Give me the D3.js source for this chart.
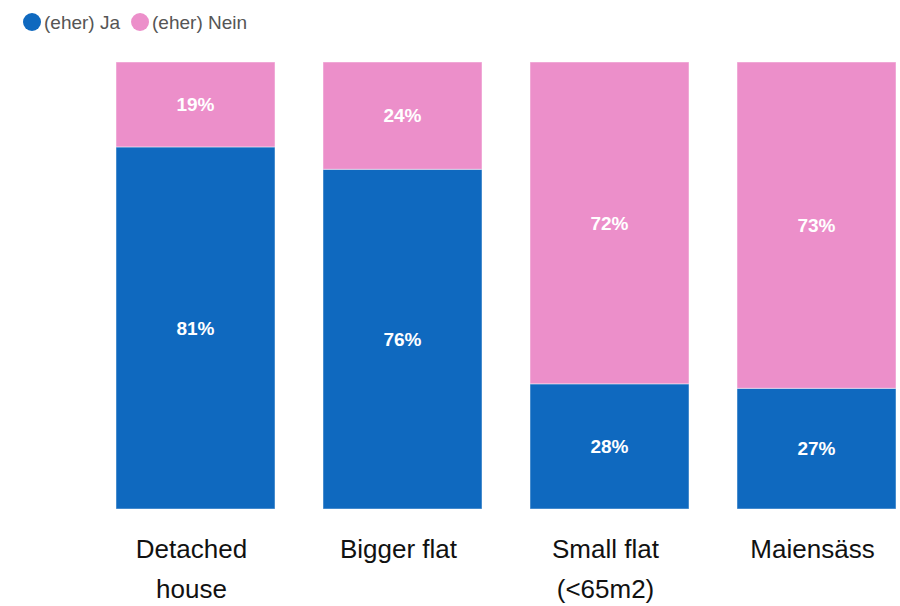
<!DOCTYPE html>
<html>
<head>
<meta charset="utf-8">
<script src="https://cdn.jsdelivr.net/npm/d3@7"></script>
<style>
  html, body { margin: 0; padding: 0; background: #fff; }
  svg { display: block; font-family: Arial, "Liberation Sans", sans-serif; }
</style>
</head>
<body>
<svg id="chart" width="900" height="606"></svg>
<script>
// Survey answers per housing type, in percent
const categories = ["Detached house", "Bigger flat", "Small flat (<65m2)", "Maiensäss"];
const categoryLines = [["Detached", "house"], ["Bigger flat"], ["Small flat", "(<65m2)"], ["Maiensäss"]];
const seriesNames = ["(eher) Ja", "(eher) Nein"];
const jaValues = [81, 76, 28, 27];
const neinValues = [19, 24, 72, 73];
const colors = ["#0f69bf", "#ec8fca"];

const svg = d3.select("#chart");

const rows = categories.map((c, i) => ({ cat: c, ja: jaValues[i], nein: neinValues[i] }));
const stack = d3.stack().keys(["ja", "nein"]);
const series = stack(rows);

const x = d3.scaleBand()
  .domain(categories)
  .range([92, 920])
  .paddingInner(0.232)
  .paddingOuter(0.116);

const y = d3.scaleLinear().domain([0, 100]).range([509, 62]);

// Stacked bars
const layers = svg.append("g").selectAll("g")
  .data(series)
  .join("g")
  .attr("fill", (d, i) => colors[i]);

layers.selectAll("rect")
  .data(d => d)
  .join("rect")
  .attr("x", d => x(d.data.cat))
  .attr("width", x.bandwidth())
  .attr("y", d => y(d[1]))
  .attr("height", d => y(d[0]) - y(d[1]))
  .attr("stroke", "rgba(255,255,255,0.45)")
  .attr("stroke-width", 1);

// Value labels centred in each segment
layers.selectAll("text")
  .data(d => d)
  .join("text")
  .attr("x", d => x(d.data.cat) + x.bandwidth() / 2)
  .attr("y", d => (y(d[0]) + y(d[1])) / 2)
  .attr("dy", "0.35em")
  .attr("text-anchor", "middle")
  .attr("fill", "#fff")
  .attr("font-size", 19)
  .attr("font-weight", "bold")
  .text(d => (d[1] - d[0]) + "%");

// Category labels, wrapped over two lines where needed
const catG = svg.append("g").selectAll("text")
  .data(categories)
  .join("text")
  .attr("x", d => x(d) + x.bandwidth() / 2 - 4)
  .attr("y", 558)
  .attr("text-anchor", "middle")
  .attr("fill", "#111")
  .attr("font-size", 26);

catG.selectAll("tspan")
  .data((d, i) => categoryLines[i])
  .join("tspan")
  .attr("x", function () { return d3.select(this.parentNode).attr("x"); })
  .attr("dy", (d, i) => i === 0 ? 0 : 40)
  .text(d => d);

// Legend
const legend = svg.append("g");
let lx = 32;
seriesNames.forEach((name, i) => {
  legend.append("circle")
    .attr("cx", lx)
    .attr("cy", 22)
    .attr("r", 9)
    .attr("fill", colors[i]);
  const t = legend.append("text")
    .attr("x", lx + 12)
    .attr("y", 22)
    .attr("dy", "0.35em")
    .attr("font-size", 19)
    .attr("fill", "#555")
    .text(name);
  lx += 12 + t.node().getComputedTextLength() + 20;
});
</script>
</body>
</html>
